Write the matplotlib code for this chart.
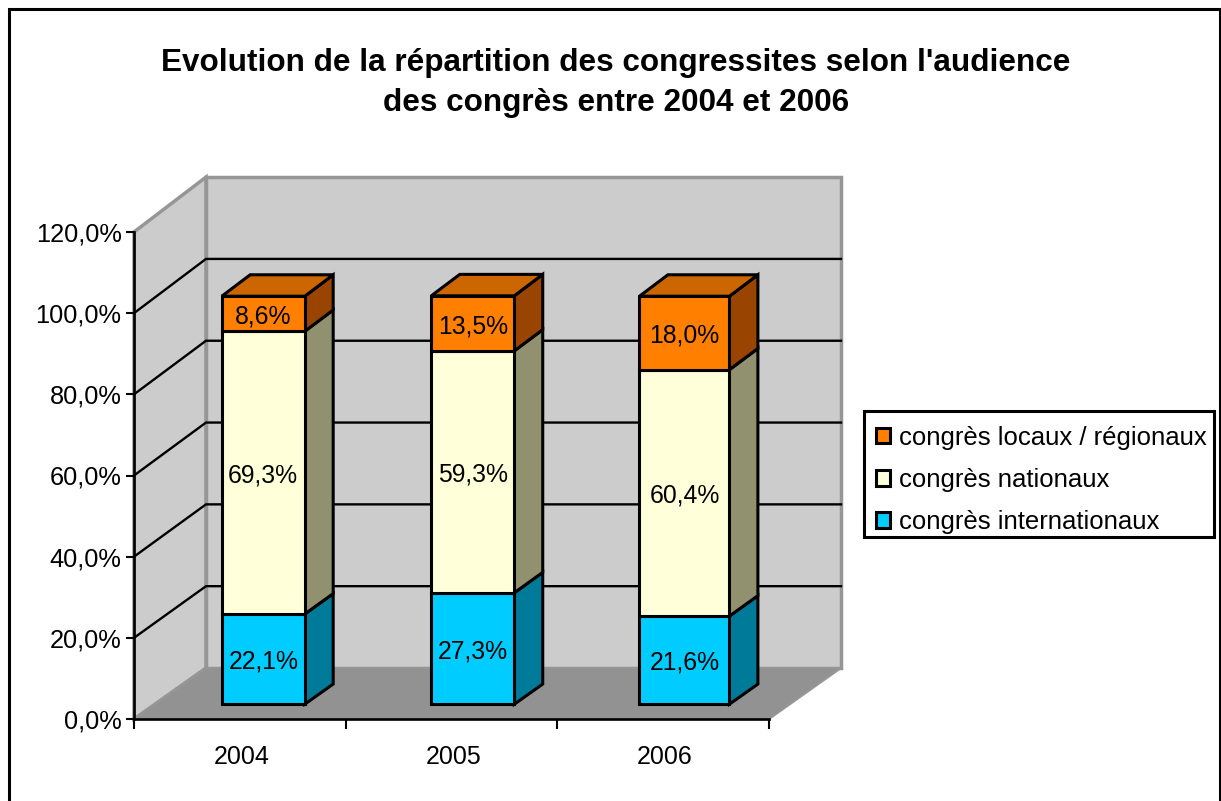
#!/usr/bin/env python3
import matplotlib
matplotlib.use('Agg')
import matplotlib.pyplot as plt
from matplotlib.patches import Patch, Polygon, Rectangle

plt.rcParams['font.family'] = ['Liberation Sans', 'DejaVu Sans']

# .................................................. data
years = ['2004', '2005', '2006']
internationaux = [22.1, 27.3, 21.6]
nationaux = [69.3, 59.3, 60.4]
locaux = [8.6, 13.5, 18.0]
yticks = [0, 20, 40, 60, 80, 100, 120]
ytick_labels = ['0,0%', '20,0%', '40,0%', '60,0%', '80,0%', '100,0%', '120,0%']
series_names = ['congrès internationaux', 'congrès nationaux', 'congrès locaux / régionaux']
title = "Evolution de la répartition des congressites selon l'audience\ndes congrès entre 2004 et 2006"

# .................................................. colours (front, side, top)
colors = [('#00CCFF', '#007A99', '#00A0C8'),
          ('#FFFFD9', '#91916F', '#CCCCAA'),
          ('#FF7F00', '#994400', '#CC6600')]

# .................................................. layout
W, H = 1221, 801
fig = plt.figure(figsize=(W/100, H/100), dpi=100, facecolor='white')
ax = fig.add_axes([134/W, 1-719/H, 635/W, 487/H])
ax.set_xlim(0, 3)
ax.set_ylim(0, 120)
ax.patch.set_visible(False)

# oblique depth: d=0 is the front plane, d=1 the back wall
depth_x = 72/(635/3)
depth_y = 51/(487/120)
depth_k = 0.008


def proj(x, v, d):
  return (x+d*depth_x, v+d*(depth_y+depth_k*v))


def poly(pts, fc, ec='none', lw=2.2, z=1):
  ax.add_patch(Polygon(pts, closed=True, facecolor=fc, edgecolor=ec, linewidth=lw,
                       joinstyle='miter', clip_on=False, zorder=z))


# .................................................. walls and floor
poly([proj(0, 0, 0), proj(0, 0, 1), proj(0, 120, 1), proj(0, 120, 0)], '#CCCCCC', '#969696', 2.5)
poly([proj(0, 0, 1), proj(3, 0, 1), proj(3, 120, 1), proj(0, 120, 1)], '#CCCCCC', '#969696', 2.5)
poly([proj(0, 0, 0), proj(3, 0, 0), proj(3, 0, 1), proj(0, 0, 1)], '#929292', '#969696', 1.5)
for v in yticks[1:-1]:
  xs, ys = zip(proj(0, v, 0), proj(0, v, 1), proj(3, v, 1))
  ax.plot(xs, ys, color='black', lw=1.7, clip_on=False, zorder=2, solid_joinstyle='miter')

# .................................................. bars
bar_widths = [0.392, 0.392, 0.425]
bar_shift = [0.012, 0.002, 0.002]
bar_scale = 1.003
d_front = 0.29
d_back = 0.685
for i, year in enumerate(years):
  w = bar_widths[i]
  x0 = i+0.5+bar_shift[i]-w/2
  x1 = x0+w
  bottom = 0.0
  for j, vals in enumerate([internationaux, nationaux, locaux]):
    top = bottom+vals[i]
    front, side, cap = colors[j]
    b = bottom*bar_scale
    t = top*bar_scale
    poly([proj(x1, b, d_front), proj(x1, b, d_back), proj(x1, t, d_back), proj(x1, t, d_front)],
         side, 'black', 2.2, 3)
    poly([proj(x0, b, d_front), proj(x1, b, d_front), proj(x1, t, d_front), proj(x0, t, d_front)],
         front, 'black', 2.2, 4)
    if j == 2:
      poly([proj(x0, t, d_front), proj(x1, t, d_front), proj(x1, t, d_back), proj(x0, t, d_back)],
           cap, 'black', 2.2, 4)
    cx, cy = proj((x0+x1)/2, (b+t)/2, d_front)
    ax.text(cx, cy-0.7, ('%.1f%%' % vals[i]).replace('.', ','), ha='center', va='center',
            fontsize=17.8, color='black', zorder=6)
    bottom = top

# .................................................. axes
for s in ['top', 'right']:
  ax.spines[s].set_visible(False)
for s in ['left', 'bottom']:
  ax.spines[s].set_linewidth(1.9)
  ax.spines[s].set_zorder(5)
ax.set_yticks(yticks)
ax.set_yticklabels(ytick_labels, fontsize=18.3)
ax.set_xticks([0, 1, 2, 3])
ax.set_xticklabels([])
ax.set_xticks([0.509, 1.509, 2.509], minor=True)
ax.set_xticklabels(years, minor=True, fontsize=18)
ax.tick_params(axis='y', length=6, width=1.5, pad=3)
ax.tick_params(axis='x', which='major', length=7, width=1.5)
ax.tick_params(axis='x', which='minor', length=0, pad=19)

# .................................................. legend
fig.add_artist(Rectangle((864/W, 1-537/H), 350/W, 126/H, transform=fig.transFigure,
                         facecolor='white', edgecolor='black', linewidth=2.2))
handles = [Patch(facecolor=colors[j][0], edgecolor='black', linewidth=2.2) for j in [2, 1, 0]]
leg = fig.legend(handles, [series_names[j] for j in [2, 1, 0]],
                 loc='upper left', bbox_to_anchor=(864/W, 1-414/H), fontsize=18.5,
                 frameon=False, handlelength=0.58, handleheight=0.58, handletextpad=0.35,
                 labelspacing=0.71, borderpad=0.45, borderaxespad=0)
leg.set_zorder(10)

# .................................................. title and outer frame
fig.text(616/W, 1-83/H, title, ha='center', va='center', fontsize=22.7,
         fontweight='bold', linespacing=1.4)
fig.add_artist(Rectangle((9/W, -0.1), 1211/W, 1.1-9/H, transform=fig.transFigure,
                         facecolor='none', edgecolor='black', linewidth=2.2))

fig.savefig('out.png', dpi=100)
